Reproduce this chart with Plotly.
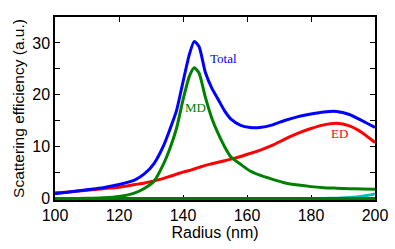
import plotly.graph_objects as go

radius = [100, 105, 110, 115, 120, 125, 128, 131, 134, 136, 138, 140, 142, 143.5,
          145, 147, 149, 151, 153, 155, 158, 161, 164, 168, 172, 176, 180, 184,
          188, 192, 196, 200]

total = [0.9, 1.3, 1.7, 2.1, 2.7, 3.6, 4.8, 6.8, 10.3, 13.5, 17.0, 22.5, 27.8, 30.3,
         29.3, 24.3, 21.3, 19.1, 16.9, 15.3, 14.1, 13.7, 13.7, 14.2, 15.1, 15.8,
         16.3, 16.7, 16.8, 16.2, 15.0, 13.7]

md = [0.0, 0.02, 0.05, 0.15, 0.4, 1.1, 2.0, 3.4, 6.8, 9.8, 13.6, 19.0, 23.6, 25.2,
      24.2, 19.5, 15.5, 12.5, 10.0, 8.0, 6.6, 5.3, 4.5, 3.7, 3.0, 2.6, 2.3, 2.1,
      2.0, 1.9, 1.85, 1.8]

ed = [1.1, 1.3, 1.6, 1.9, 2.2, 2.7, 3.0, 3.4, 3.9, 4.3, 4.7, 5.1, 5.4, 5.7,
      6.0, 6.4, 6.7, 7.0, 7.3, 7.6, 8.1, 8.7, 9.3, 10.3, 11.5, 12.6, 13.5, 14.2,
      14.5, 14.0, 12.7, 10.8]

mq = [0.0] * len(radius)

eq = [0, 0, 0, 0, 0, 0, 0, 0, 0, 0, 0, 0, 0, 0,
      0, 0, 0, 0, 0, 0, 0, 0, 0, 0, 0, 0, 0, 0.02,
      0.08, 0.2, 0.45, 0.9]

labels = [("Total", 152.8, 27.0, "#0000ff"),
          ("MD", 144.0, 17.6, "#008000"),
          ("ED", 189.0, 12.6, "#ff0000")]

fig = go.Figure()
series = [(eq, "#00bfbf"), (mq, "#007a00"), (ed, "#ff0000"), (md, "#008000"), (total, "#0000ff")]
for vals, col in series:
    fig.add_trace(go.Scatter(x=radius, y=vals, mode="lines",
                             line=dict(color=col, width=3, shape="spline", smoothing=0.6),
                             showlegend=False, hoverinfo="skip"))

for txt, x, y, col in labels:
    fig.add_annotation(x=x, y=y, text=txt, showarrow=False,
                       font=dict(family="Liberation Serif", size=13, color=col))

ytv = [0, 5, 10, 15, 20, 25, 30]
ytt = ["0", "", "10", "", "20", "", "30"]

fig.update_layout(
    width=395, height=249,
    margin=dict(l=55, r=20, t=17, b=49, autoexpand=False),
    paper_bgcolor="white", plot_bgcolor="white",
    font=dict(family="Liberation Sans", size=16, color="black"),
    xaxis=dict(range=[100, 200], tickvals=[100, 120, 140, 160, 180, 200],
               ticks="inside", ticklen=5, tickwidth=1.2, tickcolor="black",
               showline=True, linecolor="black", linewidth=1.5, mirror="ticks",
               showgrid=False, zeroline=False, layer="below traces", automargin=False,
               title=dict(text="Radius (nm)", standoff=2, font=dict(size=16))),
    yaxis=dict(range=[-0.28, 35], tickvals=ytv, ticktext=ytt,
               ticks="inside", ticklen=5, tickwidth=1.2, tickcolor="black",
               showline=True, linecolor="black", linewidth=1.5, mirror="ticks",
               showgrid=False, zeroline=False, layer="below traces", automargin=False,
               title=dict(text="Scattering efficiency (a.u.)", standoff=4, font=dict(size=15.5))),
)

fig.write_html("out.html", config={"displayModeBar": False},
               post_script="document.body.style.margin='0px';")
